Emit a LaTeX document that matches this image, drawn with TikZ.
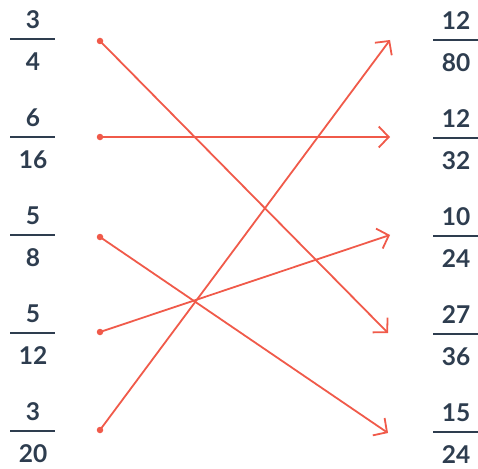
\documentclass[tikz,border=0pt]{standalone}
\usepackage{fontspec}
\setmainfont{Lato}
\usetikzlibrary{arrows.meta}
\definecolor{ink}{HTML}{2E3D4F}
\definecolor{link}{HTML}{F05A4A}
\tikzset{
  num/.style={text=ink,font=\fontsize{24.5}{28}\selectfont\bfseries,inner sep=0pt,anchor=center},
  fbar/.style={draw=ink,line width=2.4pt},
  dot/.style={circle,fill=link,inner sep=0pt,minimum size=6.5pt},
  conn/.style={draw=link,line width=1.8pt,-{Straight Barb[length=10pt,width=21pt,line width=1.8pt]}}
}
\begin{document}
\begin{tikzpicture}[x=1pt,y=-1pt]
\useasboundingbox (0,0) rectangle (478,468);
% left fractions
\foreach \i/\n/\d [evaluate=\i as \yy using 39+98*(\i-1)] in {1/3/4,2/6/16,3/5/8,4/5/12,5/3/20}{
  \node[num] (ln\i) at (33,\yy-19) {\n};
  \node[num] (ld\i) at (33,\yy+23) {\d};
  \draw[fbar] (10,\yy) -- (55,\yy);
}
% right fractions
\foreach \i/\n/\d [evaluate=\i as \yy using 40+98*(\i-1)] in {1/12/80,2/12/32,3/10/24,4/27/36,5/15/24}{
  \node[num] (rn\i) at (456,\yy-19) {\n};
  \node[num] (rd\i) at (456,\yy+23) {\d};
  \draw[fbar] (433,\yy) -- (478,\yy);
}
% dots
\node[dot] (l1) at (100,41) {};
\node[dot] (l2) at (100,137) {};
\node[dot] (l3) at (100,237) {};
\node[dot] (l4) at (100,332) {};
\node[dot] (l5) at (100,430) {};
% arrow ends
\coordinate (r1) at (390,40);
\coordinate (r2) at (390,137);
\coordinate (r3) at (390,235);
\coordinate (r4) at (388,333);
\coordinate (r5) at (388,433);
\draw[conn] (l1.center) -- (r4);
\draw[conn] (l2.center) -- (r2);
\draw[conn] (l3.center) -- (r5);
\draw[conn] (l4.center) -- (r3);
\draw[conn] (l5.center) -- (r1);
\end{tikzpicture}
\end{document}
